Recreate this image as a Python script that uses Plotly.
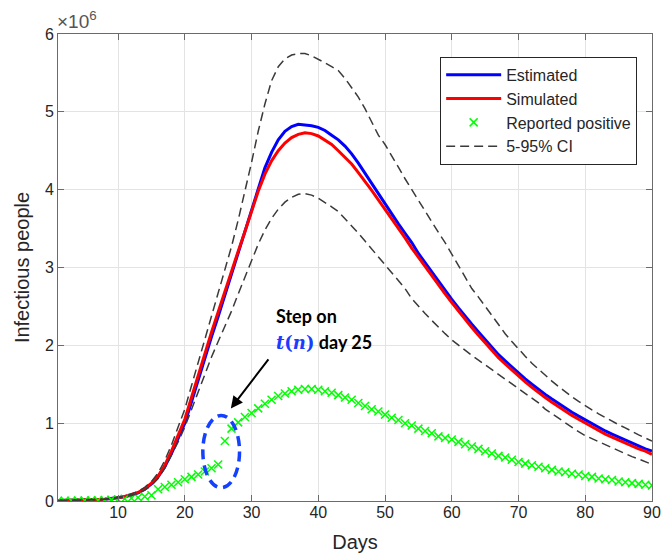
import plotly.graph_objects as go

days = list(range(1, 91))

# values in millions of people
estimated = [0.005, 0.006, 0.007, 0.009, 0.011, 0.014, 0.018, 0.023, 0.031, 0.041,
             0.055, 0.076, 0.105, 0.15, 0.22, 0.31, 0.44, 0.61, 0.80, 1.00,
             1.27, 1.56, 1.84, 2.11, 2.37, 2.64, 2.91, 3.18, 3.46, 3.74,
             4.02, 4.28, 4.48, 4.64, 4.75, 4.81, 4.84, 4.83, 4.82, 4.80,
             4.76, 4.70, 4.64, 4.56, 4.46, 4.34, 4.21, 4.07, 3.94, 3.81,
             3.69, 3.56, 3.44, 3.32, 3.18, 3.06, 2.94, 2.82, 2.70, 2.59,
             2.48, 2.37, 2.27, 2.17, 2.07, 1.97, 1.88, 1.80, 1.72, 1.64,
             1.57, 1.50, 1.43, 1.37, 1.31, 1.25, 1.19, 1.14, 1.09, 1.04,
             0.99, 0.95, 0.90, 0.86, 0.82, 0.78, 0.74, 0.71, 0.67, 0.64]

simulated = [0.005, 0.006, 0.007, 0.009, 0.011, 0.014, 0.018, 0.024, 0.032, 0.043,
             0.058, 0.08, 0.11, 0.16, 0.23, 0.32, 0.46, 0.64, 0.84, 1.05,
             1.33, 1.62, 1.90, 2.17, 2.43, 2.70, 2.96, 3.21, 3.46, 3.72,
             3.98, 4.20, 4.37, 4.50, 4.60, 4.67, 4.71, 4.73, 4.72, 4.69,
             4.64, 4.58, 4.50, 4.42, 4.33, 4.22, 4.11, 3.99, 3.87, 3.75,
             3.63, 3.50, 3.38, 3.25, 3.13, 3.01, 2.90, 2.78, 2.66, 2.55,
             2.44, 2.33, 2.23, 2.13, 2.03, 1.93, 1.84, 1.76, 1.68, 1.60,
             1.53, 1.46, 1.39, 1.33, 1.27, 1.21, 1.15, 1.10, 1.05, 1.00,
             0.95, 0.91, 0.86, 0.82, 0.78, 0.74, 0.71, 0.67, 0.64, 0.60]

reported = [0.002, 0.003, 0.004, 0.005, 0.006, 0.008, 0.010, 0.013, 0.017, 0.022,
            0.028, 0.036, 0.046, 0.058, 0.073, 0.15, 0.18, 0.21, 0.24, 0.28,
            0.31, 0.34, 0.38, 0.42, 0.47, 0.77, 0.93, 1.01, 1.08, 1.13,
            1.19, 1.25, 1.30, 1.35, 1.38, 1.41, 1.43, 1.44, 1.44, 1.43,
            1.41, 1.39, 1.36, 1.33, 1.30, 1.26, 1.22, 1.18, 1.15, 1.11,
            1.07, 1.04, 1.00, 0.97, 0.93, 0.90, 0.87, 0.83, 0.81, 0.79,
            0.76, 0.73, 0.70, 0.67, 0.64, 0.61, 0.58, 0.56, 0.53, 0.50,
            0.48, 0.46, 0.44, 0.42, 0.40, 0.38, 0.37, 0.35, 0.34, 0.32,
            0.31, 0.29, 0.28, 0.27, 0.25, 0.24, 0.23, 0.22, 0.21, 0.20]

ci_upper = [0.006, 0.007, 0.008, 0.010, 0.012, 0.016, 0.020, 0.027, 0.036, 0.048,
            0.065, 0.09, 0.125, 0.175, 0.25, 0.36, 0.52, 0.72, 0.95, 1.18,
            1.48, 1.78, 2.08, 2.37, 2.65, 2.95, 3.27, 3.61, 3.97, 4.35,
            4.75, 5.10, 5.40, 5.58, 5.68, 5.73, 5.75, 5.75, 5.72, 5.68,
            5.63, 5.58, 5.53, 5.43, 5.31, 5.19, 5.04, 4.87, 4.70, 4.58,
            4.44, 4.29, 4.14, 4.00, 3.86, 3.72, 3.59, 3.45, 3.32, 3.17,
            3.02, 2.87, 2.73, 2.62, 2.50, 2.38, 2.26, 2.15, 2.05, 1.95,
            1.86, 1.77, 1.69, 1.61, 1.54, 1.47, 1.40, 1.34, 1.28, 1.22,
            1.17, 1.12, 1.07, 1.02, 0.98, 0.94, 0.89, 0.85, 0.81, 0.77]

ci_lower = [0.004, 0.005, 0.006, 0.008, 0.010, 0.012, 0.016, 0.021, 0.028, 0.038,
            0.052, 0.07, 0.10, 0.14, 0.20, 0.29, 0.42, 0.58, 0.76, 0.95,
            1.18, 1.41, 1.63, 1.85, 2.05, 2.24, 2.44, 2.66, 2.88, 3.10,
            3.30, 3.48, 3.63, 3.75, 3.84, 3.90, 3.94, 3.95, 3.93, 3.89,
            3.84, 3.78, 3.72, 3.63, 3.54, 3.44, 3.34, 3.24, 3.14, 3.04,
            2.94, 2.83, 2.73, 2.60, 2.50, 2.41, 2.32, 2.23, 2.15, 2.07,
            2.00, 1.94, 1.87, 1.81, 1.75, 1.69, 1.63, 1.57, 1.51, 1.45,
            1.39, 1.32, 1.26, 1.18, 1.12, 1.06, 1.00, 0.94, 0.89, 0.84,
            0.80, 0.76, 0.72, 0.68, 0.64, 0.61, 0.57, 0.54, 0.50, 0.47]

x_ticks = [10, 20, 30, 40, 50, 60, 70, 80, 90]
y_ticks = [0, 1, 2, 3, 4, 5, 6]

FONT = "Liberation Sans, Arial, sans-serif"
AXC = "#262626"

fig = go.Figure()
fig.add_trace(go.Scatter(x=days, y=estimated, mode="lines", name="Estimated",
                         line=dict(color="#0000ff", width=3)))
fig.add_trace(go.Scatter(x=days, y=simulated, mode="lines", name="Simulated",
                         line=dict(color="#ff0000", width=3)))
fig.add_trace(go.Scatter(x=days, y=reported, mode="markers", name="Reported positive",
                         marker=dict(symbol="x-thin", size=8, color="#00ff00",
                                     line=dict(width=1.5, color="#00ff00"))))
fig.add_trace(go.Scatter(x=days, y=ci_upper, mode="lines", name="5-95% CI",
                         line=dict(color="#3a3a3a", width=1.5, dash="9px,5px")))
fig.add_trace(go.Scatter(x=days, y=ci_lower, mode="lines", name="5-95% CI",
                         showlegend=False,
                         line=dict(color="#3a3a3a", width=1.5, dash="9px,5px")))

axis_common = dict(showline=True, linecolor="#6b6b6b", linewidth=1, mirror="ticks",
                   ticks="inside", ticklen=6, tickcolor="#6b6b6b",
                   showgrid=True, gridcolor="#e3e3e3", gridwidth=1, automargin=False,
                   zeroline=False, tickfont=dict(family=FONT, size=16, color=AXC))

fig.update_xaxes(range=[1, 90], tickvals=x_ticks, ticklabelstandoff=-3,
                 title=dict(text="Days", font=dict(family=FONT, size=20, color=AXC), standoff=14),
                 **axis_common)
fig.update_yaxes(range=[0, 6], tickvals=y_ticks,
                 title=dict(text="Infectious people", font=dict(family=FONT, size=20, color=AXC), standoff=9),
                 **axis_common)

# blue dashed ellipse around the step
fig.add_shape(type="circle", xref="x", yref="y", x0=22.7, x1=28.2, y0=0.17, y1=1.10,
              line=dict(color="#1440ff", width=3.5, dash="10px,6px"))

fig.add_annotation(x=26.9, y=1.19, ax=32.7, ay=1.84, xref="x", yref="y", axref="x", ayref="y",
                   text="", showarrow=True, arrowhead=2, arrowsize=1.2, arrowwidth=2,
                   arrowcolor="black")
fig.add_annotation(x=33.3, y=2.38, xref="x", yref="y", xanchor="left", yanchor="middle",
                   text="<b>Step on</b>", showarrow=False,
                   font=dict(family="Lato, Open Sans, sans-serif", size=18, color="black"))
fig.add_annotation(x=33.3, y=2.04, xref="x", yref="y", xanchor="left", yanchor="middle",
                   text="<span style=\"font-family:'DejaVu Serif';color:#1a3cff\"><b><i>t</i>(<i>n</i>)</b></span><b> day 25</b>",
                   showarrow=False,
                   font=dict(family="Lato, Open Sans, sans-serif", size=18, color="black"))

# exponent label
fig.add_annotation(x=0, y=1, xref="paper", yref="paper", xanchor="left", yanchor="bottom",
                   text="\u00d710<sup>6</sup>", showarrow=False, xshift=-3,
                   font=dict(family=FONT, size=19, color="#555555"))

fig.update_layout(
    width=663, height=557,
    margin=dict(l=58, r=11, t=34, b=56, autoexpand=False),
    paper_bgcolor="white", plot_bgcolor="white",
    showlegend=True,
    legend=dict(x=0.975, y=0.951, xanchor="right", yanchor="top",
                bgcolor="white", bordercolor="#262626", borderwidth=1,
                font=dict(family=FONT, size=16, color="#262626"),
                itemwidth=55, tracegroupgap=0),
)

fig.write_html("out.html", config={"displayModeBar": False},
               post_script="document.body.style.margin='0px';document.body.style.overflow='hidden';")
